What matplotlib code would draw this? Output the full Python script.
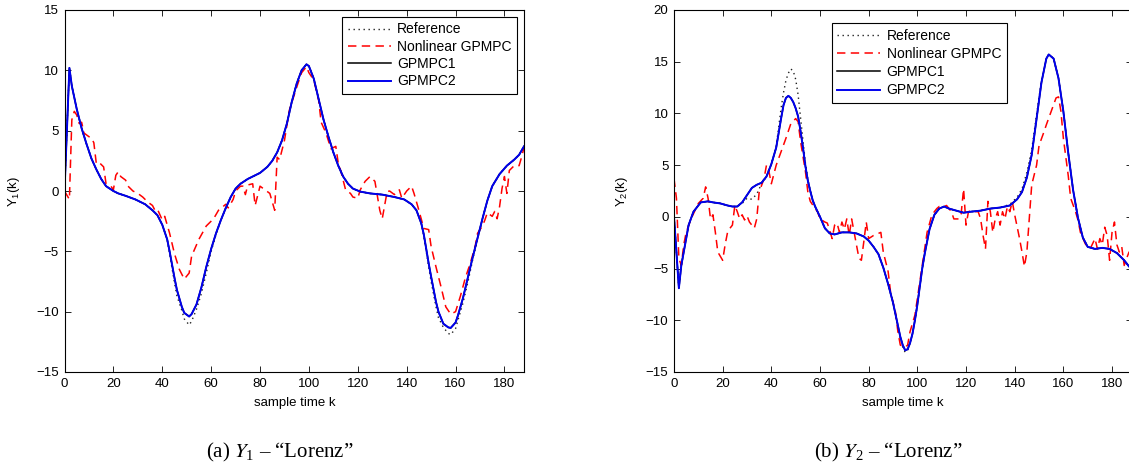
import matplotlib
matplotlib.use("Agg")
import matplotlib.pyplot as plt

plt.rcParams["font.family"] = ["Liberation Sans", "DejaVu Sans"]
plt.rcParams["mathtext.default"] = "regular"

# ---- Y1 data ----
k_y1_model = [0, 2, 3, 5, 7, 9, 11, 13, 15, 17, 20, 22, 25, 29, 33, 36, 38, 40, 42, 43,
              45, 46, 48, 49, 51, 52, 54, 56, 58, 60, 62, 64, 66, 68, 70, 72, 75, 78, 80, 83,
              85, 87, 89, 91, 93, 95, 97, 99, 100, 102, 104, 106, 108, 110, 112, 114, 116, 118, 121, 125,
              130, 135, 139, 142, 144, 146, 147, 149, 150, 152, 153, 155, 157, 158, 160, 161, 163, 165, 167, 169,
              171, 173, 175, 178, 181, 184, 186, 188]
gpmpc2_y1 = [0.0, 10.2, 8.7, 6.8, 5.2, 3.9, 2.7, 1.8, 1.0, 0.4, 0.0, -0.2, -0.4, -0.7, -1.1, -1.6, -2.0, -2.8, -4.0, -5.0,
             -7.2, -8.2, -9.6, -10.1, -10.4, -10.2, -9.4, -8.0, -6.3, -4.8, -3.5, -2.4, -1.4, -0.5, 0.2, 0.6, 1.0, 1.3, 1.5, 2.0,
             2.5, 3.2, 4.2, 5.6, 7.4, 8.9, 10.0, 10.5, 10.35, 9.3, 7.6, 5.9, 4.5, 3.2, 2.1, 1.2, 0.6, 0.2, -0.05, -0.2,
             -0.3, -0.5, -0.7, -1.1, -1.6, -2.7, -3.6, -6.0, -7.1, -9.2, -10.0, -11.0, -11.3, -11.35, -10.9, -10.3, -8.9, -7.2, -5.5, -3.9,
             -2.3, -0.8, 0.4, 1.4, 2.1, 2.6, 3.0, 3.7]
gpmpc1_y1 = list(gpmpc2_y1)
reference_y1 = [0.0, 10.2, 8.7, 6.8, 5.2, 3.9, 2.7, 1.8, 1.0, 0.4, 0.0, -0.2, -0.4, -0.7, -1.1, -1.6, -2.0, -2.8, -4.0, -5.2,
                -7.6, -8.7, -9.9, -10.6, -11.1, -10.8, -9.8, -8.5, -6.8, -5.0, -3.6, -2.4, -1.4, -0.5, 0.2, 0.6, 1.0, 1.3, 1.5, 2.0,
                2.5, 3.2, 4.2, 5.6, 7.4, 8.9, 10.0, 10.5, 10.35, 9.3, 7.6, 5.9, 4.5, 3.2, 2.1, 1.2, 0.6, 0.2, -0.05, -0.2,
                -0.3, -0.5, -0.7, -1.1, -1.6, -2.7, -3.7, -6.3, -7.5, -9.6, -10.5, -11.3, -11.8, -11.9, -11.4, -10.7, -9.3, -7.6, -5.7, -4.0,
                -2.3, -0.8, 0.4, 1.4, 2.1, 2.6, 3.0, 3.7]

k_y1_nl = [0, 2, 3, 4, 5, 6, 7, 8, 10, 11, 12, 13, 14, 16, 17, 19, 20, 21, 22, 23,
           25, 26, 28, 30, 32, 34, 36, 37, 38, 40, 41, 43, 45, 47, 49, 51, 52, 55, 58, 61,
           63, 66, 67, 69, 70, 72, 73, 74, 75, 77, 78, 80, 82, 84, 86, 87, 88, 90, 92, 95,
           97, 99, 100, 102, 104, 105, 107, 109, 111, 112, 113, 115, 117, 118, 120, 121, 123, 125, 127, 129,
           130, 132, 133, 135, 137, 138, 140, 142, 143, 145, 147, 149, 150, 152, 154, 156, 158, 160, 162, 164,
           166, 168, 169, 171, 172, 173, 175, 176, 177, 178, 179, 180, 181, 182, 184, 186, 187, 188]
nonlinear_y1 = [0.0, -0.7, 5.9, 6.6, 6.3, 5.6, 5.7, 4.8, 4.5, 4.4, 4.0, 2.3, 2.4, 2.0, 0.6, 0.4, 0.1, 1.3, 1.6, 1.2,
                0.9, 0.4, 0.0, -0.2, -0.5, -0.9, -1.2, -1.6, -1.5, -2.4, -2.1, -3.5, -5.2, -6.5, -7.3, -6.8, -5.4, -4.0, -2.9, -2.3,
                -1.6, -1.1, -1.4, -0.7, 0.0, 0.4, 0.4, -0.3, 0.5, 0.6, -1.2, 0.4, 0.1, -0.2, -1.6, 2.8, 2.6, 4.2, 6.7, 8.6,
                9.8, 10.3, 9.8, 9.2, 7.5, 5.7, 4.8, 3.5, 3.7, 2.3, 1.7, 0.1, -0.2, -0.5, -0.6, 0.1, 0.8, 1.2, 0.8, -1.6,
                -2.3, -0.05, 0.0, -0.3, 0.1, -0.6, 0.0, 0.4, -0.2, -1.6, -3.1, -3.2, -4.6, -6.3, -7.9, -9.6, -10.2, -10.0, -8.7, -7.2,
                -6.0, -4.6, -3.5, -2.9, -2.4, -1.8, -2.1, -1.7, -2.3, -1.3, 0.2, 1.2, -0.2, 1.7, 2.1, 2.1, 2.8, 3.6]

# ---- Y2 data ----
k_y2_model = [0, 1, 2, 3, 5, 6, 8, 11, 14, 16, 19, 22, 24, 26, 28, 30, 32, 34, 36, 38,
              40, 42, 44, 45, 46, 47, 48, 49, 50, 51, 52, 53, 54, 55, 56, 57, 58, 60, 62, 64,
              66, 69, 72, 75, 78, 80, 82, 84, 86, 88, 90, 92, 93, 94, 95, 96, 97, 98, 99, 100,
              102, 103, 105, 107, 109, 111, 113, 116, 119, 122, 126, 130, 134, 138, 141, 143, 145, 147, 149, 151,
              153, 154, 156, 158, 160, 162, 164, 166, 168, 170, 173, 176, 179, 182, 185, 187, 188]
gpmpc2_y2 = [0.0, -3.4, -6.9, -4.7, -2.1, -0.8, 0.5, 1.4, 1.5, 1.4, 1.3, 1.1, 1.0, 1.0, 1.4, 2.1, 2.8, 3.1, 3.3, 3.9,
             5.1, 6.7, 9.5, 10.8, 11.5, 11.7, 11.5, 11.1, 10.5, 9.7, 8.3, 6.7, 4.9, 3.5, 2.5, 1.6, 1.0, 0.0, -1.1, -1.6,
             -1.7, -1.5, -1.5, -1.6, -1.9, -2.3, -2.9, -3.6, -4.9, -6.5, -8.3, -10.5, -11.6, -12.4, -12.9, -12.8, -12.2, -11.3, -10.0, -8.5,
             -5.0, -3.6, -1.2, 0.2, 0.8, 1.0, 0.8, 0.6, 0.4, 0.5, 0.6, 0.8, 0.9, 1.1, 1.7, 2.4, 3.8, 6.0, 9.5, 13.0,
             15.3, 15.7, 15.3, 13.4, 10.2, 6.2, 2.6, -0.1, -2.0, -2.9, -3.1, -3.0, -3.1, -3.5, -4.2, -4.8, -5.0]
gpmpc1_y2 = list(gpmpc2_y2)
reference_y2 = [0.0, -3.4, -6.9, -4.7, -2.1, -0.8, 0.5, 1.4, 1.5, 1.4, 1.3, 1.1, 1.0, 1.0, 1.3, 1.8, 1.7, 2.2, 3.2, 3.9,
                5.1, 6.8, 10.5, 12.0, 13.2, 13.9, 14.3, 14.1, 13.3, 11.8, 9.6, 7.4, 5.2, 3.6, 2.5, 1.6, 1.0, 0.0, -1.1, -1.6,
                -1.7, -1.5, -1.5, -1.6, -1.9, -2.3, -2.9, -3.6, -4.9, -6.5, -8.3, -10.5, -11.7, -12.6, -13.1, -12.9, -12.2, -11.3, -10.0, -8.5,
                -5.0, -3.6, -1.2, 0.2, 0.8, 1.0, 0.8, 0.6, 0.4, 0.5, 0.6, 0.8, 0.9, 1.2, 1.9, 2.7, 4.3, 6.5, 9.9, 13.2,
                15.3, 15.7, 15.3, 13.4, 10.2, 6.2, 2.6, -0.1, -2.0, -2.9, -3.1, -3.0, -3.1, -3.5, -4.2, -4.8, -5.0]

k_y2_nl = [0, 1, 2, 3, 4, 5, 7, 9, 10, 12, 13, 14, 15, 16, 17, 18, 20, 21, 22, 23,
           24, 25, 26, 27, 28, 29, 30, 31, 33, 34, 35, 37, 38, 39, 40, 42, 44, 46, 48, 50,
           51, 52, 54, 55, 56, 58, 59, 60, 62, 63, 65, 66, 67, 68, 69, 70, 71, 72, 73, 75,
           76, 77, 78, 79, 80, 82, 84, 85, 86, 88, 89, 91, 92, 93, 95, 96, 97, 99, 100, 102,
           104, 106, 108, 109, 111, 112, 114, 115, 117, 118, 119, 120, 121, 122, 124, 125, 126, 127, 128, 129,
           130, 131, 132, 133, 134, 135, 136, 137, 138, 139, 140, 142, 143, 144, 145, 146, 147, 149, 150, 152,
           153, 155, 157, 158, 159, 160, 162, 163, 165, 166, 167, 169, 170, 171, 173, 174, 175, 176, 177, 178,
           179, 180, 181, 182, 183, 184, 185, 186, 187, 188]
nonlinear_y2 = [3.7, 1.8, -4.0, -4.7, -2.7, -1.5, -0.2, 0.8, 1.3, 1.8, 2.9, 1.8, -0.2, 0.2, -1.5, -3.4, -4.2, -2.7, -1.5, -1.1,
                -0.8, 1.1, 0.5, -0.2, 0.2, -0.3, 0.1, -0.5, -1.1, -0.2, 2.4, 3.7, 5.0, 4.4, 3.2, 5.0, 6.3, 7.6, 9.0, 9.5,
                9.2, 7.3, 4.4, 2.4, 1.5, 0.8, 0.5, -0.2, -0.5, -0.6, -2.1, -0.8, -0.6, -1.5, -0.5, -1.2, -0.2, -1.8, -0.2, -2.7,
                -4.0, -4.2, -2.4, -0.5, -2.1, -1.8, -1.6, -1.5, -3.4, -5.3, -7.3, -9.2, -11.1, -12.4, -12.6, -12.4, -11.1, -9.5, -7.9, -4.7,
                -1.5, 0.2, 0.8, 1.0, 1.0, 1.1, 0.5, -0.2, -0.2, 0.3, 2.7, -0.8, 0.5, 0.6, 0.5, 0.5, -0.2, -1.8, -3.1, 1.5,
                0.5, -1.5, -0.2, 0.5, -0.8, 0.5, -0.2, 1.0, 0.5, 1.5, 0.2, -2.1, -3.4, -4.8, -3.4, -0.2, 3.1, 5.0, 6.9, 8.2,
                8.9, 10.2, 11.5, 11.6, 10.2, 7.6, 4.0, 1.8, 0.5, -0.3, -1.5, -2.6, -2.9, -3.1, -2.1, -3.1, -2.1, -2.7, -1.0, -1.8,
                -4.2, -1.5, -0.5, -2.7, -3.4, -2.9, -4.7, -4.0, -3.4, -4.2]

x_ticks = list(range(0, 181, 20))
legend_labels = ["Reference", "Nonlinear GPMPC", "GPMPC1", "GPMPC2"]

FIG_W, FIG_H = 1129, 467


def style_axes(ax, ylim, yticks):
    ax.set_xlim(0, 188)
    ax.set_ylim(*ylim)
    ax.set_xticks(x_ticks)
    ax.set_yticks(yticks)
    ax.tick_params(direction="in", top=True, right=True, length=4,
                   width=0.6, labelsize=9.5, pad=4)
    for spine in ax.spines.values():
        spine.set_linewidth(0.8)


def draw_panel(rect, k_model, ref, nl_k, nl, g1, g2, ylim, yticks, ylabel,
               ylabel_x, legend_loc, legend_anchor, row_gap):
    ax = fig.add_axes(rect)
    ax.plot(k_model, ref, color="#222222", lw=1.0, dashes=(1, 2.6),
            label=legend_labels[0])
    ax.plot(nl_k, nl, color="red", lw=1.1, dashes=(5.5, 3.5),
            label=legend_labels[1])
    ax.plot(k_model, g1, color="black", lw=1.1, label=legend_labels[2])
    ax.plot(k_model, g2, color="#0000ee", lw=1.4, label=legend_labels[3])
    style_axes(ax, ylim, yticks)
    ax.set_xlabel("sample time k", fontsize=9.5, va="top")
    ax.xaxis.set_label_coords(0.5, -0.068)
    ax.set_ylabel(ylabel, fontsize=9.5)
    ax.yaxis.set_label_coords(ylabel_x, 0.5)
    leg = ax.legend(loc=legend_loc, bbox_to_anchor=legend_anchor,
                    borderaxespad=0, fancybox=False, framealpha=1,
                    edgecolor="black", fontsize=10, handlelength=3.1,
                    handletextpad=0.45, labelspacing=row_gap, borderpad=0.4)
    leg.get_frame().set_linewidth(0.8)
    return ax


fig = plt.figure(figsize=(FIG_W / 100, FIG_H / 100), dpi=100)

bottom = 1 - 372 / FIG_H
height = 362 / FIG_H

draw_panel([64.5 / FIG_W, bottom, 459.5 / FIG_W, height],
           k_y1_model, reference_y1, k_y1_nl, nonlinear_y1, gpmpc1_y1, gpmpc2_y1,
           (-15, 15), list(range(-15, 16, 5)), "Y$_1$(k)", -0.0925,
           "upper right", (0.985, 0.981), 0.24)

draw_panel([674 / FIG_W, bottom, 457.5 / FIG_W, height],
           k_y2_model, reference_y2, k_y2_nl, nonlinear_y2, gpmpc1_y2, gpmpc2_y2,
           (-15, 20), list(range(-15, 21, 5)), "Y$_2$(k)", -0.096,
           "upper left", (0.345, 0.963), 0.3)

fig.text(280 / FIG_W, 1 - 452 / FIG_H, "(a) $\\mathit{Y}_1$ \u2013 \u201cLorenz\u201d",
         ha="center", va="center", fontsize=15, family="Liberation Serif",
         math_fontfamily="stix")
fig.text(888 / FIG_W, 1 - 452 / FIG_H, "(b) $\\mathit{Y}_2$ \u2013 \u201cLorenz\u201d",
         ha="center", va="center", fontsize=15, family="Liberation Serif",
         math_fontfamily="stix")

fig.savefig("out.png", dpi=100)
